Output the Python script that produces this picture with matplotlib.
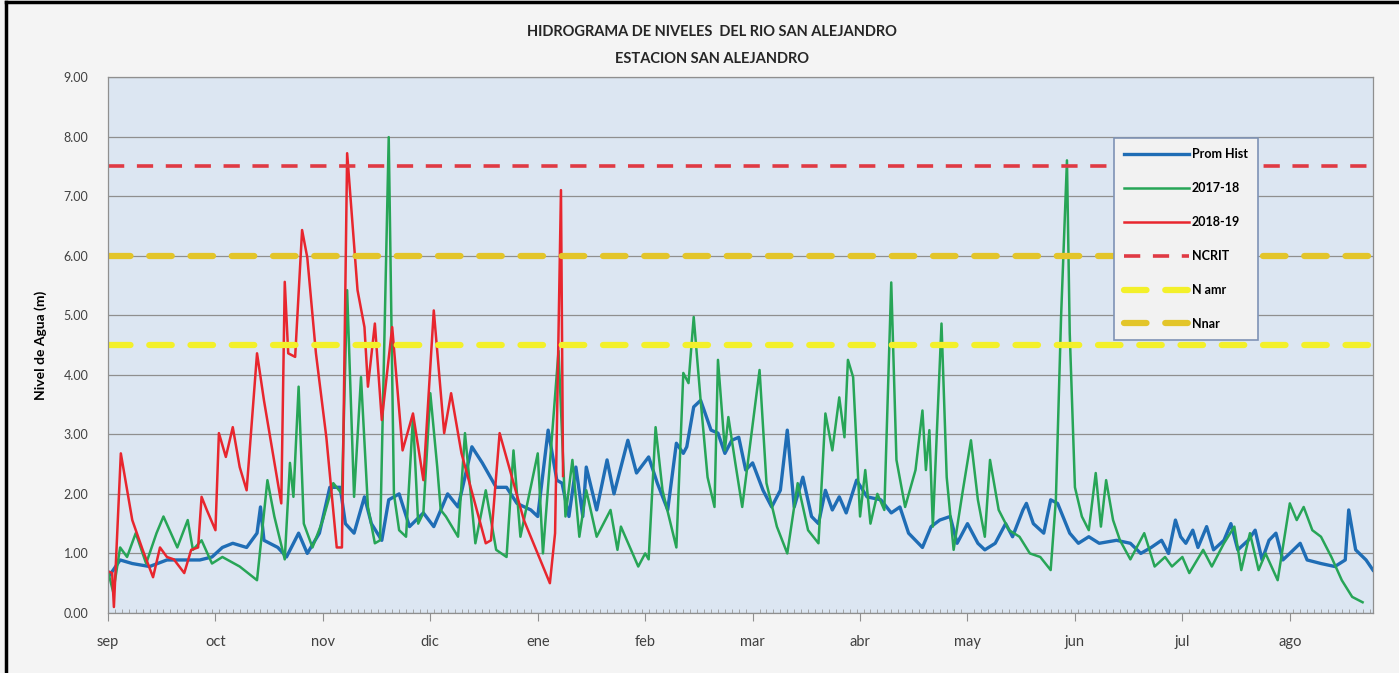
import matplotlib.pyplot as plt
from matplotlib.lines import Line2D

plt.rcParams['font.family'] = ['Lato', 'DejaVu Sans']

# eje x: dias desde 1 sep (eje de categorias, marca cada 31 dias)
meses = ['sep', 'oct', 'nov', 'dic', 'ene', 'feb', 'mar', 'abr', 'may', 'jun', 'jul', 'ago']

# Prom Hist
dias_hist = [0, 1.5, 3.5, 7, 12, 17, 22, 26.5, 30, 33, 36, 40, 43, 44, 45, 49, 51.5, 55, 57.5, 61, 64, 67,
             68.5, 71, 74, 76, 79, 81, 84, 87, 91, 94, 98, 101, 105, 108, 112, 115, 118, 122, 124, 127,
             129.5, 131, 133, 135, 137, 138, 141, 144, 146, 150, 152.5, 156, 158.5, 161.5, 164, 166,
             167, 169, 171, 174, 176, 178, 180, 182, 184, 186, 189, 191.5, 194, 196, 198, 200.5, 203,
             205, 207, 209, 211, 213, 216, 219, 223, 226, 228.5, 231, 235, 237.5, 240, 243, 245, 248,
             251, 253, 256, 259, 261, 264, 265, 267, 270, 272, 274, 277.5, 280, 283, 286, 291, 295,
             298, 301, 304, 306, 308, 309.5, 311, 313, 314.5, 317, 319, 322, 324, 326, 329, 331, 333,
             335, 337, 339, 341, 344, 346, 350, 354, 357, 358, 360, 363, 365]
nivel_hist = [0.60, 0.72, 0.89, 0.83, 0.78, 0.89, 0.89, 0.89, 0.94, 1.10, 1.17, 1.10, 1.34, 1.78, 1.22,
              1.10, 0.94, 1.34, 1.00, 1.34, 2.11, 2.11, 1.50, 1.34, 1.95, 1.50, 1.22, 1.90, 2.00, 1.45,
              1.68, 1.45, 2.00, 1.78, 2.79, 2.52, 2.11, 2.11, 1.84, 1.73, 1.62, 3.07, 2.23, 2.18, 1.62,
              2.45, 1.62, 2.45, 1.73, 2.57, 2.00, 2.90, 2.35, 2.62, 2.18, 1.73, 2.85, 2.68, 2.79, 3.46,
              3.57, 3.07, 3.02, 2.68, 2.90, 2.95, 2.40, 2.52, 2.06, 1.78, 2.06, 3.07, 1.78, 2.28, 1.62,
              1.50, 2.06, 1.73, 1.95, 1.68, 2.23, 1.95, 1.90, 1.68, 1.78, 1.34, 1.10, 1.45, 1.56, 1.62,
              1.17, 1.50, 1.17, 1.06, 1.17, 1.50, 1.28, 1.73, 1.84, 1.50, 1.34, 1.90, 1.84, 1.34, 1.17,
              1.28, 1.17, 1.22, 1.17, 1.00, 1.10, 1.22, 1.00, 1.56, 1.28, 1.17, 1.39, 1.10, 1.45, 1.06,
              1.22, 1.50, 1.06, 1.22, 1.39, 0.89, 1.22, 1.34, 0.89, 1.00, 1.17, 0.89, 0.83, 0.78, 0.89,
              1.73, 1.06, 0.89, 0.72]

# 2017-18
dias_1718 = [0, 1.5, 3.5, 5.5, 8, 11, 14, 16, 20, 23, 24.5, 27, 30, 33, 38, 43, 46, 48, 51, 52.5, 53.5,
             55, 56.5, 59, 62, 65, 67.5, 69, 71, 73, 75, 77, 78.5, 81, 82.5, 84, 86, 88, 89.5, 91, 93,
             95, 96, 97.5, 101, 103, 106, 109, 112, 115, 117, 119, 124, 125.5, 130, 132, 134, 136,
             138, 141, 145, 147, 148, 153, 155, 156, 158, 160, 164, 166, 167.5, 169, 171, 173, 175,
             176, 178, 179, 181, 183, 188, 190, 193, 196, 199, 202, 205, 207, 209, 211, 212.5, 213.5,
             215, 217, 218.5, 220, 222, 224, 226, 227.5, 230, 233, 235, 236, 237, 238, 240.5, 242,
             244, 246.5, 249, 251, 253, 254.5, 257, 260, 263, 266, 269, 272, 273.5, 275, 276.7, 277.5,
             279, 281, 283, 285, 286.5, 288, 290, 292, 295, 299, 302, 305, 307, 310, 312, 316, 318.5,
             322, 325, 327, 329.5, 332, 334, 337.5, 341, 343, 345, 347.5, 350, 353, 356, 359, 362]
nivel_1718 = [0.70, 0.35, 1.10, 0.94, 1.34, 0.83, 1.34, 1.62, 1.10, 1.56, 1.06, 1.22, 0.83, 0.94, 0.78,
              0.55, 2.23, 1.62, 0.90, 2.52, 1.95, 3.80, 1.50, 1.10, 1.56, 2.18, 2.00, 5.42, 1.95, 3.96,
              1.78, 1.17, 1.22, 7.99, 2.00, 1.39, 1.28, 3.29, 1.50, 1.68, 3.69, 2.45, 1.73, 1.62, 1.28,
              3.02, 1.17, 2.06, 1.06, 0.94, 2.73, 1.28, 2.68, 1.00, 4.40, 1.62, 2.57, 1.28, 2.06, 1.28,
              1.73, 1.06, 1.45, 0.78, 1.00, 0.90, 3.12, 2.06, 1.10, 4.03, 3.86, 4.97, 3.57, 2.28, 1.78,
              4.25, 2.73, 3.29, 2.52, 1.78, 4.08, 2.18, 1.45, 1.00, 2.18, 1.39, 1.17, 3.35, 2.73, 3.62,
              2.95, 4.25, 3.96, 1.62, 2.40, 1.50, 2.00, 1.73, 5.55, 2.57, 1.78, 2.40, 3.40, 2.40, 3.07,
              1.45, 4.86, 2.28, 1.06, 2.00, 2.90, 1.90, 1.28, 2.57, 1.73, 1.39, 1.28, 1.00, 0.94, 0.72,
              1.90, 4.97, 7.60, 4.70, 2.11, 1.62, 1.39, 2.35, 1.45, 2.23, 1.56, 1.22, 0.90, 1.34, 0.78,
              0.94, 0.78, 0.94, 0.67, 1.06, 0.78, 1.17, 1.45, 0.72, 1.34, 0.72, 1.00, 0.55, 1.84, 1.56,
              1.78, 1.39, 1.28, 0.94, 0.55, 0.27, 0.18]

# 2018-19
dias_1819 = [0, 1.2, 1.7, 3.7, 7, 10, 13, 15, 17, 19, 22, 24, 26, 27, 28.5, 31, 32, 34, 36, 38, 40, 43,
             45, 50, 51, 52, 54, 56, 57.5, 60, 63, 66, 67.5, 69, 72, 74, 75, 77, 79, 82, 85, 88, 91,
             94, 97, 99, 102, 109, 110.5, 113, 120, 127.5, 129, 130.7, 131.3]
nivel_1819 = [0.70, 0.67, 0.10, 2.68, 1.56, 1.06, 0.60, 1.10, 0.94, 0.90, 0.67, 1.06, 1.10, 1.95, 1.73,
              1.39, 3.02, 2.62, 3.12, 2.45, 2.06, 4.36, 3.57, 1.84, 5.56, 4.36, 4.30, 6.43, 5.97, 4.36,
              2.95, 1.10, 1.10, 7.72, 5.42, 4.80, 3.80, 4.86, 3.24, 4.80, 2.73, 3.35, 2.23, 5.08, 3.02,
              3.69, 2.68, 1.17, 1.22, 3.02, 1.56, 0.50, 1.34, 7.10, 2.30]

# niveles de referencia
ncrit = 7.5
n_amr = 4.5
n_nar = 6.0

c_hist = '#1f6db5'
c_1718 = '#27a557'
c_1819 = '#e8262e'
c_ncrit = '#e03a44'
c_amr = '#f3f02a'
c_nar = '#e3c52a'

fig = plt.figure(figsize=(13.99, 6.73), dpi=100, facecolor='#f4f4f4')
ax = fig.add_axes([0.0772, 0.0892, 0.9042, 0.7964])
ax.set_facecolor('#dce6f2')

ax.plot(dias_hist, nivel_hist, color=c_hist, lw=2.4, label='Prom Hist')
ax.plot(dias_1718, nivel_1718, color=c_1718, lw=1.8, label='2017-18')
ax.plot(dias_1819, nivel_1819, color=c_1819, lw=1.8, label='2018-19')
ax.axhline(ncrit, color=c_ncrit, lw=2.6, dashes=(4.5, 3.5), label='NCRIT')
ax.axhline(n_amr, color=c_amr, lw=4.5, dashes=(3.6, 3.0), dash_capstyle='round', label='N amr')
ax.axhline(n_nar, color=c_nar, lw=4.5, dashes=(3.6, 3.0), dash_capstyle='round', label='Nnar')

ax.set_xlim(0, 365)
ax.set_ylim(0, 9)
ax.set_yticks(range(0, 10))
ax.set_yticklabels(['%.2f' % v for v in range(0, 10)], fontsize=9, color='#404040')
ax.yaxis.grid(True, color='#8f8f8f', lw=0.9)
ax.set_axisbelow(True)
ax.tick_params(axis='y', length=0, pad=14)

ax.set_xticks([i * 31 for i in range(12)])
ax.set_xticklabels(meses, fontsize=10.5, color='#404040')
ax.set_xticks(range(0, 366, 2), minor=True)
ax.tick_params(axis='x', which='major', length=6, color='#8f8f8f', pad=10)
ax.tick_params(axis='x', which='minor', length=3, direction='in', color='#9a9a9a', width=0.6)

for s in ax.spines.values():
    s.set_color('#8f8f8f')
    s.set_linewidth(0.9)

ax.set_ylabel('Nivel de Agua (m)', fontsize=10, fontweight='bold', labelpad=12)

fig.text(0.509, 0.953, 'HIDROGRAMA DE NIVELES  DEL RIO SAN ALEJANDRO', ha='center', va='center',
         fontsize=10.5, fontweight='bold', color='#262626')
fig.text(0.509, 0.912, 'ESTACION SAN ALEJANDRO', ha='center', va='center',
         fontsize=10.5, fontweight='bold', color='#262626')

leg = ax.legend(loc='upper left', bbox_to_anchor=(0.79, 0.897), fontsize=9, frameon=True,
                fancybox=False, edgecolor='#7f93b5', facecolor='#f2f2f2', framealpha=1,
                handlelength=5.2, labelspacing=1.75, borderpad=0.8, handletextpad=0.25)
leg.get_frame().set_linewidth(1.2)
for t in leg.get_texts():
    t.set_fontweight('bold')

# marco negro de la captura
fig.add_artist(Line2D([0.004, 0.004], [0, 0.997], color='black', lw=2.5, transform=fig.transFigure))
fig.add_artist(Line2D([0.004, 1], [0.997, 0.997], color='black', lw=2.5, transform=fig.transFigure))

fig.savefig('out.png', dpi=100, facecolor=fig.get_facecolor())
